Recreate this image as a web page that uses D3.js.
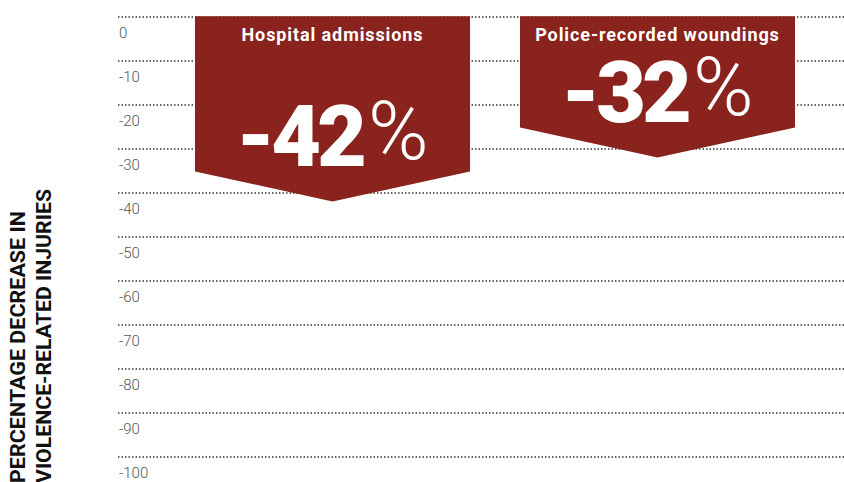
<!DOCTYPE html>
<html>
<head>
<meta charset="utf-8">
<script src="https://cdn.jsdelivr.net/npm/d3@7"></script>
<style>
  html, body { margin: 0; padding: 0; background: #fff; }
  svg { display: block; }
</style>
</head>
<body>
<svg></svg>
<script>
// Data
const categories = ["Hospital admissions", "Police-recorded woundings"];
const decreases = [-42, -32];
const tickValues = [0, -10, -20, -30, -40, -50, -60, -70, -80, -90, -100];
const axisTitle = ["PERCENTAGE DECREASE IN", "VIOLENCE-RELATED INJURIES"];

const width = 844;
const height = 482;
const red = "#8a231e";

const svg = d3.select("svg")
    .attr("width", width)
    .attr("height", height);

// Scales
const y = d3.scaleLinear()
    .domain([0, -100])
    .range([16.7, 456.7]);

const x = d3.scaleBand()
    .domain(categories)
    .range([170, 820])
    .paddingInner(0.1538)
    .paddingOuter(0.0769);

// Dotted gridlines + tick labels
const grid = svg.append("g");
tickValues.forEach(t => {
    grid.append("line")
        .attr("x1", 118)
        .attr("x2", width)
        .attr("y1", Math.round(y(t)))
        .attr("y2", Math.round(y(t)))
        .attr("stroke", "#333")
        .attr("stroke-width", 1.5)
        .attr("stroke-dasharray", "1.5,2");
    grid.append("text")
        .attr("x", 119)
        .attr("y", y(t) + 21)
        .attr("fill", "#555")
        .attr("font-family", "Roboto")
        .attr("font-weight", 300)
        .attr("font-size", "15px")
        .text(t);
});

// Axis title (rotated)
const titleLengths = [272, 294];
axisTitle.forEach((line, i) => {
    svg.append("text")
        .attr("transform", `translate(${25 + i * 26},483) rotate(-90)`)
        .attr("fill", "#111")
        .attr("font-family", "Roboto")
        .attr("font-weight", 700)
        .attr("font-size", "19.5px")
        .attr("textLength", titleLengths[i])
        .attr("lengthAdjust", "spacingAndGlyphs")
        .text(line);
});

// Chevron boxes
const chevron = 30;
const boxes = svg.append("g");
categories.forEach((c, i) => {
    const x0 = x(c);
    const x1 = x0 + x.bandwidth();
    const xm = x0 + x.bandwidth() / 2;
    const tip = y(decreases[i]);
    const top = y(0) - 0.5;
    const pts = [[x0, top], [x1, top], [x1, tip - chevron], [xm, tip], [x0, tip - chevron]];
    boxes.append("polygon")
        .attr("points", pts.map(p => p.join(",")).join(" "))
        .attr("fill", red);

    boxes.append("text")
        .attr("x", xm)
        .attr("y", 41)
        .attr("text-anchor", "middle")
        .attr("fill", "#fff")
        .attr("font-family", "Roboto")
        .attr("font-weight", 700)
        .attr("font-size", "18px")
        .attr("letter-spacing", "0.9px")
        .text(c);

    const big = boxes.append("text")
        .attr("x", xm)
        .attr("y", tip - 36)
        .attr("text-anchor", "middle")
        .attr("fill", "#fff")
        .attr("font-family", "Roboto");
    big.append("tspan")
        .attr("font-weight", 900)
        .attr("font-size", "86px")
        .attr("letter-spacing", "-4px")
        .text(decreases[i]);
    big.append("tspan")
        .attr("font-weight", 300)
        .attr("font-size", "82px")
        .attr("dx", 5)
        .attr("dy", -7)
        .text("%");
});
</script>
</body>
</html>
